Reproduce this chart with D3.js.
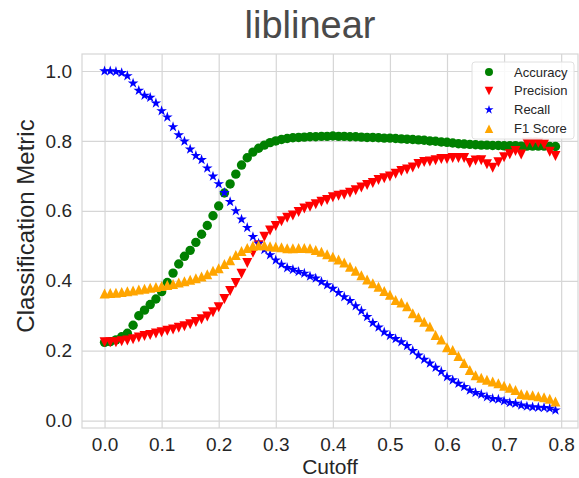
<!DOCTYPE html>
<html>
<head>
<meta charset="utf-8">
<script src="https://cdn.jsdelivr.net/npm/d3@7"></script>
<style>
  body { margin: 0; background: #fff; }
  svg text { font-family: "Liberation Sans", Arial, sans-serif; fill: #262626; }
</style>
</head>
<body>
<script>
'use strict';

// cutoff values on the x axis
const cutoff = [
  0.00, 0.01, 0.02, 0.03, 0.04, 0.05, 0.06, 0.07, 0.08, 0.09,
  0.10, 0.11, 0.12, 0.13, 0.14, 0.15, 0.16, 0.17, 0.18, 0.19,
  0.20, 0.21, 0.22, 0.23, 0.24, 0.25, 0.26, 0.27, 0.28, 0.29,
  0.30, 0.31, 0.32, 0.33, 0.34, 0.35, 0.36, 0.37, 0.38, 0.39,
  0.40, 0.41, 0.42, 0.43, 0.44, 0.45, 0.46, 0.47, 0.48, 0.49,
  0.50, 0.51, 0.52, 0.53, 0.54, 0.55, 0.56, 0.57, 0.58, 0.59,
  0.60, 0.61, 0.62, 0.63, 0.64, 0.65, 0.66, 0.67, 0.68, 0.69,
  0.70, 0.71, 0.72, 0.73, 0.74, 0.75, 0.76, 0.77, 0.78, 0.79
];

const accuracy = [
  0.224, 0.226, 0.231, 0.240, 0.250, 0.273, 0.300, 0.316, 0.332, 0.348,
  0.369, 0.395, 0.422, 0.448, 0.470, 0.487, 0.510, 0.533, 0.558, 0.586,
  0.614, 0.651, 0.677, 0.705, 0.731, 0.752, 0.768, 0.779, 0.788, 0.795,
  0.800, 0.804, 0.807, 0.809, 0.810, 0.811, 0.812, 0.812, 0.813, 0.813,
  0.814, 0.813, 0.813, 0.812, 0.812, 0.811, 0.810, 0.810, 0.809, 0.808,
  0.808, 0.807, 0.806, 0.805, 0.804, 0.803, 0.802, 0.800, 0.799, 0.797,
  0.796, 0.794, 0.792, 0.791, 0.790, 0.789, 0.788, 0.788, 0.787, 0.787,
  0.786, 0.786, 0.786, 0.785, 0.785, 0.785, 0.785, 0.785, 0.784, 0.784
];

const precision = [
  0.224, 0.224, 0.224, 0.227, 0.229, 0.233, 0.238, 0.242, 0.245, 0.249,
  0.253, 0.257, 0.261, 0.266, 0.270, 0.276, 0.282, 0.290, 0.298, 0.310,
  0.324, 0.348, 0.371, 0.394, 0.420, 0.451, 0.480, 0.502, 0.526, 0.544,
  0.557, 0.570, 0.580, 0.587, 0.597, 0.607, 0.612, 0.619, 0.626, 0.631,
  0.639, 0.643, 0.646, 0.652, 0.659, 0.667, 0.674, 0.680, 0.688, 0.693,
  0.698, 0.706, 0.714, 0.718, 0.724, 0.734, 0.740, 0.741, 0.745, 0.748,
  0.748, 0.751, 0.751, 0.751, 0.737, 0.744, 0.745, 0.733, 0.723, 0.739,
  0.753, 0.762, 0.771, 0.761, 0.795, 0.795, 0.795, 0.790, 0.769, 0.757
];

const recall = [
  1.000, 1.000, 0.998, 0.995, 0.986, 0.965, 0.944, 0.930, 0.924, 0.908,
  0.886, 0.868, 0.840, 0.817, 0.799, 0.776, 0.758, 0.746, 0.722, 0.699,
  0.677, 0.652, 0.626, 0.600, 0.576, 0.552, 0.526, 0.507, 0.489, 0.474,
  0.459, 0.447, 0.437, 0.432, 0.426, 0.421, 0.413, 0.407, 0.397, 0.388,
  0.378, 0.366, 0.354, 0.343, 0.328, 0.314, 0.297, 0.280, 0.267, 0.253,
  0.243, 0.234, 0.225, 0.214, 0.200, 0.187, 0.175, 0.164, 0.152, 0.140,
  0.125, 0.116, 0.106, 0.097, 0.087, 0.080, 0.075, 0.068, 0.063, 0.061,
  0.056, 0.051, 0.049, 0.044, 0.041, 0.039, 0.038, 0.037, 0.035, 0.030
];

const f1 = [
  0.364, 0.365, 0.366, 0.368, 0.370, 0.372, 0.375, 0.377, 0.380, 0.382,
  0.385, 0.388, 0.391, 0.395, 0.399, 0.403, 0.407, 0.412, 0.419, 0.429,
  0.436, 0.448, 0.459, 0.474, 0.485, 0.494, 0.500, 0.502, 0.502, 0.499,
  0.497, 0.496, 0.493, 0.493, 0.494, 0.494, 0.493, 0.488, 0.483, 0.476,
  0.469, 0.461, 0.452, 0.440, 0.429, 0.416, 0.404, 0.393, 0.383, 0.371,
  0.360, 0.345, 0.338, 0.327, 0.307, 0.296, 0.283, 0.269, 0.245, 0.232,
  0.210, 0.202, 0.185, 0.165, 0.145, 0.130, 0.123, 0.117, 0.112, 0.107,
  0.100, 0.094, 0.088, 0.076, 0.074, 0.073, 0.070, 0.067, 0.063, 0.055
];

const seriesNames = ["Accuracy", "Precision", "Recall", "F1 Score"];
const xTicks = [0.0, 0.1, 0.2, 0.3, 0.4, 0.5, 0.6, 0.7, 0.8];
const yTicks = [0.0, 0.2, 0.4, 0.6, 0.8, 1.0];

(function() {
  let svgContainer = "";
  const width = 579, height = 478;
  const plot = { left: 82, right: 578, top: 54, bottom: 428 };

  // marker shapes, in the style of matplotlib 'o', 'v', '*', '^'
  function markerPath(kind, r) {
    if (kind === "circle") {
      return d3.symbol().type(d3.symbolCircle).size(Math.PI * r * r)();
    }
    if (kind === "down") return `M0,${r}L${-r},${-r}L${r},${-r}Z`;
    if (kind === "up") return `M0,${-r}L${-r},${r}L${r},${r}Z`;
    // star
    let pts = [];
    for (let k = 0; k < 10; k++) {
      let rad = k % 2 === 0 ? r : r * 0.382;
      let a = -Math.PI / 2 + k * Math.PI / 5;
      pts.push([rad * Math.cos(a), rad * Math.sin(a)]);
    }
    return "M" + pts.map(p => p[0].toFixed(2) + "," + p[1].toFixed(2)).join("L") + "Z";
  }

  const styles = [
    { values: accuracy, color: "#008000", kind: "circle", r: 4.7 },
    { values: precision, color: "#ff0000", kind: "down", r: 5 },
    { values: recall, color: "#0000ff", kind: "star", r: 5.6 },
    { values: f1, color: "#ffa500", kind: "up", r: 5 }
  ];

  window.onload = function() {
    svgContainer = d3.select('body')
      .append('svg')
      .attr('width', width)
      .attr('height', height);

    let map = drawAxes();
    plotData(map);
    makeLabels();
    makeLegend();
  };

  // draw the grid, frame and tick labels
  function drawAxes() {
    let xScale = d3.scaleLinear()
      .domain([-0.0395, 0.8295])
      .range([plot.left, plot.right]);

    let yScale = d3.scaleLinear()
      .domain([-0.021, 1.0486])
      .range([plot.bottom, plot.top]);

    let xAxis = d3.axisBottom(xScale)
      .tickValues(xTicks)
      .tickFormat(d3.format(".1f"))
      .tickSize(-(plot.bottom - plot.top))
      .tickPadding(10);

    let gx = svgContainer.append("g")
      .attr("transform", `translate(0, ${plot.bottom})`)
      .call(xAxis);

    let yAxis = d3.axisLeft(yScale)
      .tickValues(yTicks)
      .tickFormat(d3.format(".1f"))
      .tickSize(-(plot.right - plot.left))
      .tickPadding(10);

    let gy = svgContainer.append("g")
      .attr("transform", `translate(${plot.left}, 0)`)
      .call(yAxis);

    [gx, gy].forEach(g => {
      g.select(".domain").remove();
      g.selectAll(".tick line")
        .attr("stroke", "#d6d6d6")
        .attr("stroke-width", 1.2);
      g.selectAll(".tick text")
        .style("font-size", "19px")
        .attr("fill", "#262626");
    });

    // frame around plot area
    svgContainer.append("rect")
      .attr("x", plot.left)
      .attr("y", plot.top)
      .attr("width", plot.right - plot.left)
      .attr("height", plot.bottom - plot.top)
      .attr("fill", "none")
      .attr("stroke", "#d6d6d6")
      .attr("stroke-width", 1.2);

    return { xScale: xScale, yScale: yScale };
  }

  // plot every series as markers
  function plotData(map) {
    styles.forEach(s => {
      svgContainer.append("g")
        .selectAll("path")
        .data(s.values)
        .enter()
        .append("path")
          .attr("d", markerPath(s.kind, s.r))
          .attr("transform", (d, i) =>
            `translate(${map.xScale(cutoff[i])}, ${map.yScale(d)})`)
          .attr("fill", s.color);
    });
  }

  // title and axis labels
  function makeLabels() {
    svgContainer.append('text')
      .attr('x', 310)
      .attr('y', 38)
      .attr('text-anchor', 'middle')
      .style('font-size', '38px')
      .style('fill', '#4a4a4a')
      .text("liblinear");

    svgContainer.append('text')
      .attr('x', (plot.left + plot.right) / 2)
      .attr('y', 474)
      .attr('text-anchor', 'middle')
      .style('font-size', '21px')
      .text('Cutoff');

    svgContainer.append('text')
      .attr('transform', 'translate(34, 226)rotate(-90)')
      .attr('text-anchor', 'middle')
      .style('font-size', '24px')
      .text('Classification Metric');
  }

  function makeLegend() {
    let legend = svgContainer.append("g")
      .attr("transform", "translate(472, 62)");

    legend.append("rect")
      .attr("width", 102)
      .attr("height", 77)
      .attr("rx", 3)
      .attr("fill", "#fff")
      .attr("fill-opacity", 0.85)
      .attr("stroke", "#e0e0e0");

    seriesNames.forEach((name, i) => {
      let row = legend.append("g")
        .attr("transform", `translate(0, ${10 + i * 18.9})`);
      row.append("path")
        .attr("d", markerPath(styles[i].kind, styles[i].r * 0.85))
        .attr("transform", "translate(17, 0)")
        .attr("fill", styles[i].color);
      row.append("text")
        .attr("x", 42)
        .attr("y", 4.5)
        .style("font-size", "13px")
        .text(name);
    });
  }
})();
</script>
</body>
</html>
